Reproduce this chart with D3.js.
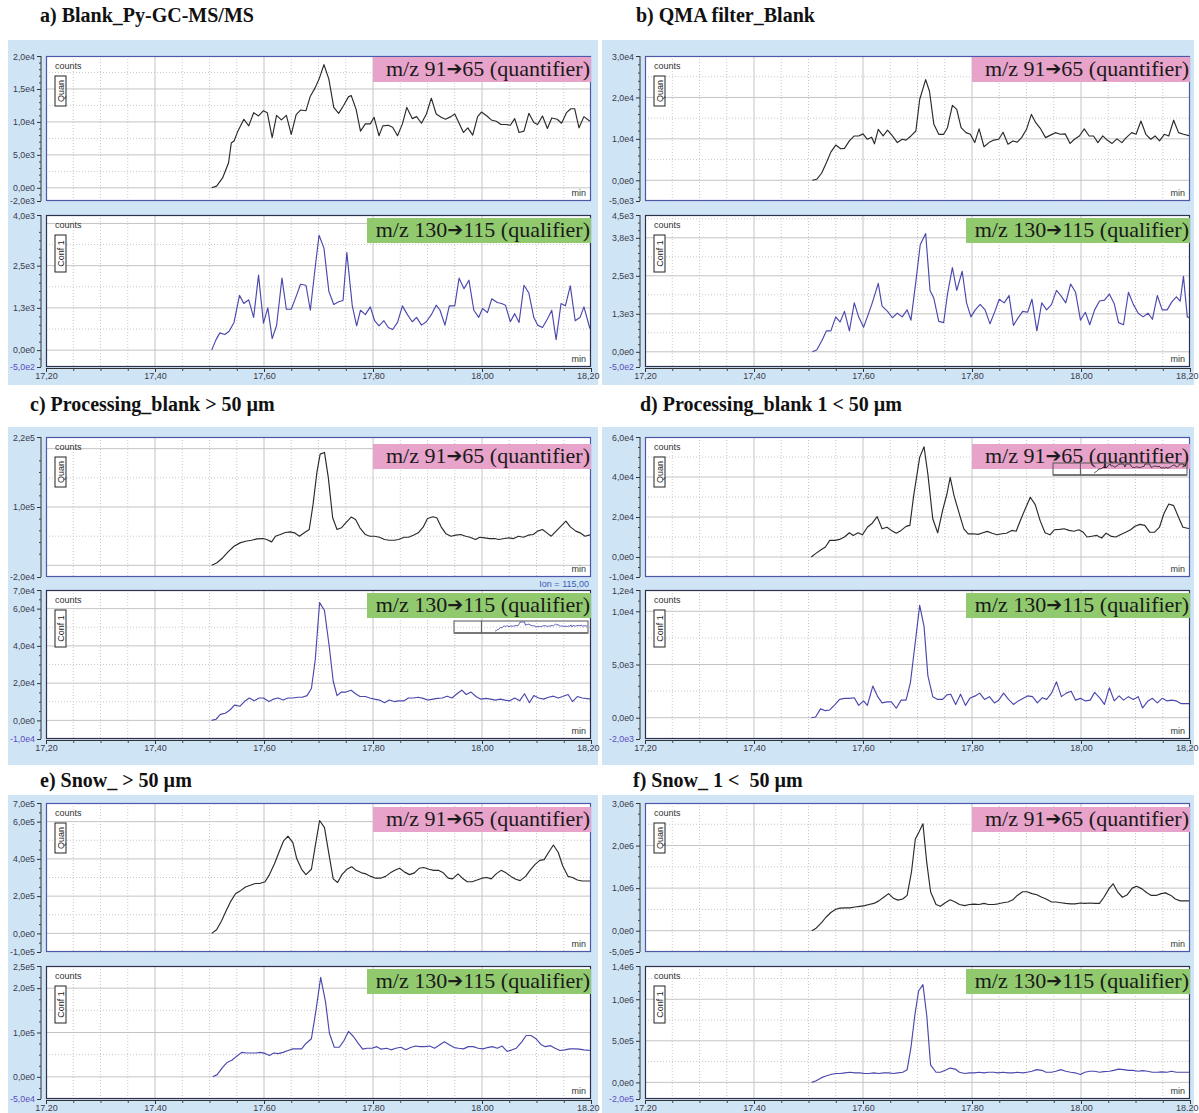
<!DOCTYPE html>
<html><head><meta charset="utf-8">
<script src="https://cdn.jsdelivr.net/npm/d3@7"></script>
<style>body{margin:0;background:#fff}svg{display:block}</style>
</head><body>
<script>
// ---- Retention-time traces [min, counts] ----
const aQuan = [[17.504,0],[17.513,250],[17.524,1500],[17.535,3800],[17.540,6800],[17.545,7100],[17.552,8600],[17.563,10400],[17.572,9400],[17.581,11400],[17.590,10900],[17.599,11700],[17.606,11400],[17.615,7600],[17.623,11000],[17.632,10300],[17.641,11000],[17.650,8100],[17.659,11100],[17.667,11800],[17.677,11700],[17.685,13900],[17.694,15200],[17.701,16500],[17.710,18700],[17.719,16500],[17.728,12200],[17.737,11300],[17.746,12500],[17.755,13800],[17.760,14000],[17.769,11900],[17.777,8600],[17.786,9700],[17.795,9700],[17.802,10700],[17.811,7900],[17.818,9400],[17.828,9500],[17.836,9200],[17.845,7900],[17.854,9700],[17.862,12200],[17.872,10500],[17.880,10800],[17.889,9800],[17.898,11200],[17.907,13600],[17.916,11200],[17.925,10700],[17.933,10400],[17.943,10800],[17.950,11200],[17.958,9800],[17.966,8400],[17.974,9100],[17.983,8000],[17.992,10800],[17.999,11500],[18.009,10900],[18.017,10300],[18.026,10100],[18.035,9600],[18.043,9600],[18.052,9500],[18.060,10500],[18.068,8400],[18.077,8600],[18.086,11300],[18.095,9900],[18.102,9600],[18.111,10900],[18.120,9000],[18.128,10600],[18.138,10400],[18.146,9800],[18.155,11400],[18.163,12000],[18.170,12000],[18.178,9100],[18.187,10800],[18.198,10100]];
const aConf = [[17.504,0],[17.512,310],[17.519,510],[17.528,460],[17.536,560],[17.545,820],[17.555,1620],[17.563,1380],[17.572,1490],[17.581,970],[17.590,2220],[17.599,800],[17.607,1250],[17.615,340],[17.623,720],[17.633,2130],[17.641,1210],[17.650,1210],[17.659,1590],[17.667,1950],[17.677,1920],[17.685,1180],[17.694,2460],[17.701,3400],[17.710,3020],[17.719,1740],[17.728,1350],[17.737,1430],[17.745,1470],[17.752,2890],[17.762,1310],[17.770,720],[17.777,1180],[17.786,1050],[17.795,1280],[17.803,870],[17.811,720],[17.820,870],[17.828,670],[17.836,610],[17.845,820],[17.854,1310],[17.862,1080],[17.872,840],[17.880,970],[17.889,740],[17.898,840],[17.907,1050],[17.916,1330],[17.923,1180],[17.932,740],[17.940,1310],[17.950,1310],[17.958,2130],[17.967,1820],[17.976,2070],[17.985,1180],[17.994,970],[18.001,1230],[18.010,1110],[18.018,1520],[18.028,1410],[18.036,1380],[18.043,1330],[18.052,840],[18.060,1080],[18.068,820],[18.077,1920],[18.086,1690],[18.095,970],[18.102,740],[18.111,670],[18.120,920],[18.128,1180],[18.136,310],[18.145,1380],[18.153,1310],[18.162,1900],[18.171,870],[18.180,970],[18.187,1280],[18.198,640]];
const bQuan = [[17.507,0],[17.515,240],[17.524,1700],[17.533,4300],[17.541,6800],[17.550,8500],[17.559,7600],[17.566,7700],[17.575,9500],[17.584,10700],[17.592,10700],[17.600,11200],[17.608,9900],[17.616,10400],[17.621,8800],[17.628,12300],[17.637,10700],[17.645,12100],[17.654,10700],[17.663,9100],[17.672,9900],[17.679,9700],[17.688,10700],[17.697,11900],[17.704,19500],[17.715,24300],[17.722,21500],[17.730,13500],[17.739,11100],[17.748,11100],[17.755,12700],[17.764,18100],[17.772,17100],[17.780,12700],[17.789,11500],[17.797,11100],[17.805,9100],[17.813,12400],[17.822,8100],[17.831,9100],[17.840,9700],[17.849,9900],[17.857,11600],[17.866,8700],[17.875,9500],[17.883,9200],[17.891,10300],[17.900,12300],[17.909,15900],[17.917,13900],[17.926,12400],[17.935,10300],[17.944,10900],[17.953,11500],[17.962,11100],[17.971,11200],[17.980,8900],[17.988,9900],[17.997,10700],[18.006,12400],[18.015,10700],[18.023,10700],[18.031,9100],[18.040,10700],[18.048,9700],[18.057,8900],[18.066,10000],[18.075,9100],[18.083,10300],[18.093,11500],[18.101,11100],[18.110,14300],[18.119,11100],[18.128,9900],[18.136,10700],[18.144,9500],[18.153,11100],[18.161,10700],[18.170,14500],[18.179,11500],[18.188,11100],[18.200,10700]];
const bConf = [[17.507,0],[17.515,60],[17.524,350],[17.533,690],[17.541,690],[17.550,1150],[17.558,980],[17.566,1330],[17.575,690],[17.584,1610],[17.592,1150],[17.601,810],[17.608,1150],[17.617,1610],[17.628,2250],[17.635,1500],[17.645,1330],[17.654,1120],[17.663,1270],[17.672,1150],[17.681,1380],[17.688,1040],[17.697,2310],[17.705,3520],[17.715,3890],[17.723,2020],[17.730,1760],[17.739,1000],[17.748,960],[17.755,1900],[17.764,2770],[17.772,2020],[17.782,2650],[17.790,1610],[17.798,1150],[17.806,1380],[17.815,1560],[17.824,1380],[17.833,920],[17.842,1330],[17.850,1730],[17.859,1610],[17.868,1850],[17.876,870],[17.884,1100],[17.893,1330],[17.902,1300],[17.910,1730],[17.919,690],[17.928,1610],[17.937,1380],[17.946,1560],[17.955,2020],[17.963,1850],[17.972,1610],[17.981,2230],[17.990,1960],[17.999,1040],[18.008,1300],[18.016,890],[18.025,1380],[18.034,1670],[18.043,1700],[18.052,1900],[18.061,1580],[18.069,960],[18.078,890],[18.087,1960],[18.096,1560],[18.105,1270],[18.114,1150],[18.123,1270],[18.131,1070],[18.140,1850],[18.149,1380],[18.158,1380],[18.167,1650],[18.175,1810],[18.182,1670],[18.188,2480],[18.195,1150],[18.200,1120]];
const cQuan = [[17.504,0],[17.513,4000],[17.524,12600],[17.534,23000],[17.545,32700],[17.556,38500],[17.566,41300],[17.577,43000],[17.587,45400],[17.598,45900],[17.605,44200],[17.614,40200],[17.621,49900],[17.630,52800],[17.639,56300],[17.648,57400],[17.656,55700],[17.665,49900],[17.674,55700],[17.683,61400],[17.690,104500],[17.697,159000],[17.703,190600],[17.711,193500],[17.718,150400],[17.726,81500],[17.734,61400],[17.742,64300],[17.750,72900],[17.760,82700],[17.768,78600],[17.776,64300],[17.786,52800],[17.794,49900],[17.803,49900],[17.812,48200],[17.821,44200],[17.830,43000],[17.839,43000],[17.847,44200],[17.857,48200],[17.865,48200],[17.874,51700],[17.883,55700],[17.892,65400],[17.900,80400],[17.910,83200],[17.917,81500],[17.925,66000],[17.934,54000],[17.943,49900],[17.952,51700],[17.961,52800],[17.970,49900],[17.978,48200],[17.988,44200],[17.996,48200],[18.005,47100],[18.014,45900],[18.023,45900],[18.031,44200],[18.041,45900],[18.049,47100],[18.058,45900],[18.067,49900],[18.076,48200],[18.085,51700],[18.094,52800],[18.102,58600],[18.111,61400],[18.119,55700],[18.127,49900],[18.136,58600],[18.145,67200],[18.154,75800],[18.162,66000],[18.172,58600],[18.180,55700],[18.189,49900],[18.200,52800]];
const cConf = [[17.504,0],[17.512,600],[17.520,3200],[17.529,3800],[17.538,5700],[17.546,8200],[17.556,7600],[17.564,10100],[17.573,12000],[17.582,10500],[17.591,12000],[17.599,12000],[17.609,10100],[17.617,11400],[17.626,12000],[17.635,10900],[17.644,12000],[17.653,12000],[17.662,12400],[17.670,12400],[17.679,13300],[17.687,17100],[17.694,32400],[17.702,63200],[17.711,59000],[17.720,39000],[17.727,21000],[17.734,13300],[17.742,15200],[17.750,15200],[17.760,16200],[17.768,14300],[17.776,12800],[17.786,12800],[17.794,12000],[17.803,11400],[17.812,10900],[17.821,9500],[17.830,10900],[17.839,10100],[17.847,10500],[17.857,10500],[17.865,12000],[17.874,12000],[17.883,12400],[17.892,11800],[17.900,10900],[17.910,11400],[17.918,11800],[17.927,12000],[17.936,13000],[17.945,12000],[17.954,14300],[17.963,16200],[17.971,13900],[17.980,15200],[17.989,12800],[17.998,11400],[18.007,11800],[18.016,11400],[18.024,10900],[18.034,11400],[18.042,10900],[18.051,10500],[18.060,12000],[18.069,10500],[18.078,14300],[18.087,9500],[18.095,13300],[18.104,12000],[18.113,11400],[18.122,12400],[18.131,13000],[18.140,12000],[18.148,12800],[18.158,13900],[18.166,10100],[18.175,12800],[18.184,12000],[18.200,11400]];
const dQuan = [[17.505,0],[17.513,1700],[17.523,3600],[17.531,5000],[17.539,8300],[17.549,8300],[17.557,8800],[17.566,10000],[17.575,12100],[17.582,10800],[17.591,12100],[17.599,11100],[17.608,14900],[17.617,16900],[17.626,20200],[17.635,14100],[17.644,14900],[17.652,13300],[17.661,11900],[17.670,13300],[17.679,15300],[17.686,15800],[17.693,30700],[17.704,49800],[17.712,55100],[17.719,41500],[17.728,19100],[17.737,12100],[17.746,23200],[17.754,31500],[17.760,39800],[17.767,30700],[17.775,23200],[17.785,14100],[17.793,11600],[17.802,11600],[17.811,11300],[17.820,12100],[17.828,12800],[17.837,11900],[17.846,11100],[17.855,11600],[17.863,11900],[17.873,13300],[17.881,12900],[17.890,19100],[17.899,24900],[17.907,29900],[17.916,26200],[17.925,18200],[17.934,12100],[17.943,11100],[17.951,13600],[17.961,13800],[17.969,14100],[17.978,13300],[17.987,12900],[17.996,13600],[18.004,12400],[18.011,10000],[18.020,10400],[18.029,10800],[18.038,9500],[18.046,11900],[18.056,10300],[18.064,10000],[18.073,11300],[18.082,12400],[18.091,13600],[18.099,15400],[18.108,16300],[18.117,15800],[18.126,12400],[18.135,12400],[18.144,14900],[18.152,21600],[18.161,26500],[18.170,25700],[18.179,19900],[18.187,14900],[18.200,14100]];
const dConf = [[17.505,0],[17.513,70],[17.522,830],[17.531,660],[17.539,730],[17.549,1250],[17.557,1720],[17.566,1820],[17.575,1820],[17.584,1880],[17.592,1160],[17.601,1580],[17.608,1160],[17.618,2970],[17.627,1980],[17.635,1390],[17.644,1490],[17.652,1490],[17.661,890],[17.670,1650],[17.679,1650],[17.687,3300],[17.694,6270],[17.704,10560],[17.712,8580],[17.719,3960],[17.728,1980],[17.737,1720],[17.746,1720],[17.754,2150],[17.761,2210],[17.770,1250],[17.779,2210],[17.788,1160],[17.796,1820],[17.806,2050],[17.814,2310],[17.823,1720],[17.832,1980],[17.841,1390],[17.849,1650],[17.858,2310],[17.867,1720],[17.876,1250],[17.885,1580],[17.894,1820],[17.902,2050],[17.911,1980],[17.920,1390],[17.929,1880],[17.937,1720],[17.946,2310],[17.955,3370],[17.964,1980],[17.973,2310],[17.982,2480],[17.990,1650],[17.999,1820],[18.008,1580],[18.017,1650],[18.025,2380],[18.035,1820],[18.043,1250],[18.052,2810],[18.061,1580],[18.070,2050],[18.078,1650],[18.087,1980],[18.096,1720],[18.105,1980],[18.113,920],[18.123,1580],[18.131,1820],[18.140,1390],[18.149,1820],[18.158,1580],[18.166,1650],[18.175,1580],[18.184,1320],[18.200,1320]];
const eQuan = [[17.504,0],[17.513,19100],[17.522,66900],[17.531,124300],[17.539,172100],[17.548,214100],[17.557,229400],[17.566,248600],[17.575,258100],[17.584,267700],[17.592,267700],[17.602,277200],[17.610,315500],[17.619,372800],[17.628,439800],[17.636,497100],[17.644,522000],[17.653,487600],[17.660,401500],[17.669,344200],[17.677,315500],[17.687,344200],[17.694,468500],[17.702,606100],[17.711,567900],[17.720,411100],[17.727,292500],[17.735,273400],[17.743,315500],[17.752,344200],[17.761,357600],[17.769,338400],[17.779,325000],[17.787,319300],[17.796,305900],[17.805,296400],[17.814,296400],[17.823,305900],[17.832,325000],[17.840,338400],[17.849,349900],[17.858,328900],[17.867,315500],[17.876,325000],[17.885,349900],[17.893,353700],[17.903,344200],[17.911,338400],[17.920,338400],[17.929,325000],[17.938,296400],[17.946,292500],[17.956,319300],[17.964,296400],[17.973,277200],[17.982,277200],[17.991,286800],[18.000,296400],[18.009,300200],[18.017,292500],[18.026,319300],[18.035,338400],[18.044,325000],[18.053,305900],[18.062,290600],[18.070,283000],[18.080,305900],[18.088,338400],[18.097,369000],[18.106,392000],[18.114,395800],[18.122,434100],[18.131,474200],[18.140,434100],[18.148,363300],[18.158,305900],[18.166,300200],[18.175,286800],[18.184,281100],[18.200,281100]];
const eConf = [[17.506,0],[17.514,5000],[17.524,21500],[17.532,32300],[17.541,37300],[17.550,46600],[17.559,55200],[17.568,53800],[17.577,53800],[17.585,53800],[17.594,55200],[17.603,52300],[17.610,48000],[17.618,53800],[17.626,52300],[17.635,55200],[17.644,59500],[17.653,63100],[17.662,63100],[17.669,63100],[17.677,75300],[17.687,86000],[17.695,147000],[17.704,224400],[17.713,168500],[17.720,98200],[17.729,66700],[17.738,66700],[17.747,82400],[17.755,102500],[17.764,91000],[17.773,75300],[17.781,62400],[17.789,64500],[17.798,64500],[17.807,68100],[17.815,62400],[17.825,64500],[17.833,60900],[17.842,64500],[17.851,66700],[17.860,60900],[17.869,66000],[17.878,69500],[17.886,68100],[17.895,68100],[17.904,69500],[17.913,64500],[17.922,71700],[17.931,78900],[17.939,73100],[17.949,66000],[17.957,64500],[17.966,63100],[17.975,68100],[17.984,68100],[17.993,64500],[18.002,63100],[18.010,66000],[18.019,68100],[18.028,64500],[18.037,69500],[18.046,57300],[18.055,60900],[18.063,64500],[18.073,78900],[18.081,93200],[18.090,93200],[18.099,86000],[18.108,73100],[18.116,68100],[18.126,70300],[18.134,64500],[18.143,59500],[18.152,60900],[18.161,63100],[18.170,63100],[18.179,62400],[18.187,60900],[18.200,59500]];
const fQuan = [[17.506,0],[17.514,60000],[17.524,188000],[17.532,316000],[17.541,427000],[17.550,504000],[17.558,530000],[17.567,538000],[17.576,538000],[17.585,556000],[17.594,573000],[17.603,590000],[17.611,615000],[17.620,641000],[17.629,701000],[17.638,786000],[17.647,872000],[17.656,761000],[17.664,718000],[17.673,744000],[17.681,829000],[17.689,1385000],[17.696,2154000],[17.703,2325000],[17.710,2513000],[17.717,1598000],[17.724,915000],[17.734,615000],[17.742,573000],[17.751,658000],[17.760,726000],[17.769,675000],[17.777,615000],[17.787,590000],[17.795,615000],[17.804,624000],[17.813,615000],[17.822,641000],[17.830,615000],[17.840,615000],[17.848,632000],[17.857,658000],[17.866,675000],[17.875,726000],[17.883,829000],[17.893,915000],[17.901,915000],[17.910,872000],[17.919,846000],[17.928,786000],[17.936,744000],[17.946,675000],[17.954,675000],[17.963,658000],[17.972,641000],[17.981,632000],[17.989,632000],[17.999,650000],[18.007,641000],[18.016,650000],[18.025,641000],[18.034,641000],[18.042,786000],[18.052,1000000],[18.059,1103000],[18.067,915000],[18.076,786000],[18.085,846000],[18.094,1000000],[18.102,1043000],[18.112,983000],[18.120,897000],[18.129,829000],[18.138,829000],[18.147,872000],[18.155,889000],[18.165,829000],[18.173,744000],[18.182,701000],[18.200,701000]];
const fConf = [[17.506,0],[17.514,19000],[17.524,57000],[17.532,76000],[17.541,95000],[17.550,107000],[17.558,107000],[17.567,115000],[17.576,122000],[17.585,115000],[17.594,115000],[17.603,107000],[17.611,107000],[17.620,115000],[17.629,107000],[17.638,115000],[17.647,115000],[17.656,107000],[17.664,115000],[17.673,122000],[17.681,153000],[17.688,420000],[17.695,802000],[17.702,1099000],[17.710,1176000],[17.717,802000],[17.724,210000],[17.734,122000],[17.742,122000],[17.751,145000],[17.760,172000],[17.769,160000],[17.777,122000],[17.787,107000],[17.795,115000],[17.804,115000],[17.813,122000],[17.822,115000],[17.830,122000],[17.840,122000],[17.848,115000],[17.857,122000],[17.866,115000],[17.875,115000],[17.883,122000],[17.893,115000],[17.901,122000],[17.910,134000],[17.919,153000],[17.928,145000],[17.936,122000],[17.946,122000],[17.954,134000],[17.963,153000],[17.972,134000],[17.981,122000],[17.989,115000],[17.999,95000],[18.007,122000],[18.016,134000],[18.025,134000],[18.034,122000],[18.042,130000],[18.052,134000],[18.060,145000],[18.069,160000],[18.078,153000],[18.087,145000],[18.095,145000],[18.105,134000],[18.113,141000],[18.122,134000],[18.131,122000],[18.140,122000],[18.148,126000],[18.158,122000],[18.166,134000],[18.175,122000],[18.184,122000],[18.200,122000]];

// ---- Panel text and axes ----
const panelTitles = ["a) Blank_Py-GC-MS/MS", "b) QMA filter_Blank", "c) Processing_blank > 50 µm",
                     "d) Processing_blank 1 < 50 µm", "e) Snow_ > 50 µm", "f) Snow_ 1 <  50 µm"];
const quanSeries = [aQuan, bQuan, cQuan, dQuan, eQuan, fQuan];
const confSeries = [aConf, bConf, cConf, dConf, eConf, fConf];
const quanDomains = [[-2e3, 2e4], [-5e3, 3e4], [-2e4, 2.2e5], [-1e4, 6e4], [-1e5, 7e5], [-5e5, 3e6]];
const confDomains = [[-5e2, 4e3], [-5e2, 4.5e3], [-1e4, 7e4], [-2e3, 1.2e4], [-5e4, 2.5e5], [-2e5, 1.4e6]];
const quanMajor = [[0, 5e3, 1e4, 1.5e4], [0, 1e4, 2e4], [0, 1e5, 2e5], [0, 2e4, 4e4], [0, 2e5, 4e5, 6e5], [0, 1e6, 2e6]];
const quanLabels = [[0, 5e3, 1e4, 1.5e4], [0, 1e4, 2e4], [1e5], [0, 2e4, 4e4], [0, 2e5, 4e5, 6e5], [0, 1e6, 2e6]];
const quanMinorStep = [1e3, 2e3, 2e4, 5e3, 5e4, 2.5e5];
const confMajor = [[0, 1250, 2500, 3750], [0, 1250, 2500, 3750], [0, 2e4, 4e4, 6e4], [0, 5e3, 1e4], [0, 1e5, 2e5], [0, 5e5, 1e6]];
const confLabels = [[0, 1250, 2500], [0, 1250, 2500, 3750], [0, 2e4, 4e4, 6e4], [0, 5e3, 1e4], [0, 1e5, 2e5], [0, 5e5, 1e6]];
const confMinorStep = [250, 250, 5e3, 1e3, 2.5e4, 1e5];
const timeTicks = [17.2, 17.4, 17.6, 17.8, 18.0, 18.2];
const timeDecimalMark = [",", ",", "."];           // per row of panels
const quanTag = ["m/z 91", "65 (quantifier)"];
const confTag = ["m/z 130", "115 (qualifier)"];

// ---- Layout ----
const W = 1199, H = 1113;
const rows = [
  {title: 22, bg0: 40, bg1: 385, q: [56, 201], c: [215, 367], tagQ: 1},
  {title: 411, bg0: 427, bg1: 765, q: [437, 577], c: [590, 739], tagQ: 7},
  {title: 787, bg0: 795, bg1: 1113, q: [803, 952], c: [966, 1099], tagQ: 4}
];
const cols = [
  {bg0: 8, bg1: 598, axis: 41, x0: 46, x1: 591},
  {bg0: 602, bg1: 1194, axis: 640, x0: 645, x1: 1190}
];
const titleX = [40, 636, 30, 640, 40, 633];

const BG = "#cfe5f6", QUAN = "#2a2a2a", CONF = "#4a48ad";
const fmtY = v => v.toExponential(1).replace(".", ",").replace("e+", "e");

const svg = d3.select("body").append("svg").attr("width", W).attr("height", H)
  .style("font-family", "'Liberation Sans', Arial, sans-serif");
svg.append("rect").attr("width", W).attr("height", H).attr("fill", "#fff");
const defs = svg.append("defs");

function minorValues(domain, step, major) {
  const out = [];
  const start = Math.ceil(domain[0] / step);
  for (let k = start; k * step <= domain[1] + 1e-9; k++) {
    const v = k * step;
    if (!major.some(m => Math.abs(m - v) < step * 1e-6)) out.push(v);
  }
  return out;
}

function drawSub(g, id, col, yr, domain, major, labels, minorStep, data, kind) {
  const x = d3.scaleLinear().domain([17.2, 18.2]).range([col.x0, col.x1]);
  const y = d3.scaleLinear().domain(domain).range([yr[1], yr[0]]);
  const w = col.x1 - col.x0, h = yr[1] - yr[0];
  g.append("rect").attr("x", col.x0).attr("y", yr[0]).attr("width", w).attr("height", h).attr("fill", "#fff");

  // grid: dotted minor, solid major
  const xMinor = d3.range(1, 20).map(i => 17.2 + i * 0.05).filter((v, i) => (i + 1) % 4 !== 0);
  const xMajor = [17.4, 17.6, 17.8, 18.0];
  const yMid = [];
  const steps = major.slice(1).map((m, i) => m - major[i]);
  const half = (steps.length ? steps[0] : major[0]) / 2;
  for (let v = major[0] - half; v >= domain[0]; v -= half * 2) yMid.push(v);
  major.forEach(m => { if (m + half < domain[1]) yMid.push(m + half); });
  const grid = g.append("g");
  grid.selectAll(".xm").data(xMinor).join("line")
    .attr("x1", d => x(d)).attr("x2", d => x(d)).attr("y1", yr[0]).attr("y2", yr[1])
    .attr("stroke", "#c9c9c9").attr("stroke-dasharray", "1,2");
  grid.selectAll(".ym").data(yMid).join("line")
    .attr("x1", col.x0).attr("x2", col.x1).attr("y1", d => y(d)).attr("y2", d => y(d))
    .attr("stroke", "#c9c9c9").attr("stroke-dasharray", "1,2");
  grid.selectAll(".xM").data(xMajor).join("line")
    .attr("x1", d => x(d)).attr("x2", d => x(d)).attr("y1", yr[0]).attr("y2", yr[1])
    .attr("stroke", "#c4c4c4");
  grid.selectAll(".yM").data(major.filter(v => v < domain[1])).join("line")
    .attr("x1", col.x0).attr("x2", col.x1).attr("y1", d => y(d)).attr("y2", d => y(d))
    .attr("stroke", "#c4c4c4");

  // trace
  defs.append("clipPath").attr("id", id).append("rect")
    .attr("x", col.x0).attr("y", yr[0]).attr("width", w).attr("height", h);
  g.append("path").datum(data).attr("clip-path", `url(#${id})`)
    .attr("d", d3.line().x(d => x(d[0])).y(d => y(d[1])))
    .attr("fill", "none").attr("stroke", kind === "quan" ? QUAN : CONF)
    .attr("stroke-width", 1.15).attr("stroke-linejoin", "round");

  // frame
  g.append("rect").attr("x", col.x0 + 0.5).attr("y", yr[0] + 0.5).attr("width", w - 1).attr("height", h - 1)
    .attr("fill", "none").attr("stroke", kind === "quan" ? "#4d58a8" : "#2e3050").attr("stroke-width", 1.2);

  // y axis: major + minor ticks, labels incl. the domain ends
  const ax = g.append("g").attr("transform", `translate(${col.axis},0)`);
  ax.append("line").attr("y1", yr[0]).attr("y2", yr[1]).attr("stroke", "#333");
  const minorAxis = d3.axisLeft(y).tickValues(minorValues(domain, minorStep, major)).tickSize(2).tickFormat("");
  ax.append("g").call(minorAxis).call(s => s.select(".domain").remove())
    .selectAll("line").attr("stroke", "#444");
  const allLabels = [domain[1], ...labels.filter(v => v !== domain[1]), domain[0]];
  const majorAxis = d3.axisLeft(y).tickValues(allLabels).tickSize(4).tickPadding(2).tickFormat(fmtY);
  const mg = ax.append("g").call(majorAxis).call(s => s.select(".domain").remove());
  mg.selectAll("line").attr("stroke", "#333");
  mg.selectAll("text").attr("font-size", 8.8).attr("font-family", "'Liberation Sans', Arial, sans-serif")
    .attr("fill", d => (kind === "conf" && d === domain[0]) ? "#5a4bc0" : "#3a3a4a");
  mg.selectAll(".tick text").filter(d => d === domain[1]).attr("dy", "0.45em");

  // in-plot annotations
  g.append("text").attr("x", col.x0 + 9).attr("y", yr[0] + 13).attr("font-size", 9).attr("fill", "#333").text("counts");
  const boxH = kind === "quan" ? 30 : 37;
  const bx = col.x0 + 9, by = yr[0] + 20;
  g.append("rect").attr("x", bx).attr("y", by).attr("width", 11).attr("height", boxH)
    .attr("fill", "#fff").attr("stroke", "#222").attr("stroke-width", 1);
  g.append("text").attr("transform", `translate(${bx + 8.5},${by + boxH / 2}) rotate(-90)`)
    .attr("text-anchor", "middle").attr("font-size", 9).attr("fill", "#222")
    .text(kind === "quan" ? "Quan" : "Conf 1");
  g.append("text").attr("x", col.x1 - 5).attr("y", yr[1] - 5).attr("text-anchor", "end")
    .attr("font-size", 9).attr("fill", "#333").text("min");
  return {x, y};
}

function tag(g, xRight, yTop, width, fill, parts) {
  g.append("rect").attr("x", xRight - width).attr("y", yTop).attr("width", width).attr("height", 25).attr("fill", fill);
  const t = g.append("text").attr("x", xRight - 1).attr("y", yTop + 19).attr("text-anchor", "end")
    .attr("font-family", "'Liberation Serif', 'Times New Roman', serif").attr("font-size", 22).attr("fill", "#1a1a1a");
  t.append("tspan").text(parts[0]);
  t.append("tspan").attr("font-family", "'DejaVu Sans', sans-serif").attr("font-size", 19).attr("dy", -1).text("➔");
  t.append("tspan").attr("dy", 1).text(parts[1]);
}

function inset(g, x0, y0, w, h, data, color) {
  const xs = d3.scaleLinear().domain([17.2, 18.2]).range([x0 + 1, x0 + w - 1]);
  const ys = d3.scaleLinear().domain([0, d3.max(data, d => d[1]) / 3]).range([y0 + h - 2, y0 + 1]).clamp(true);
  g.append("rect").attr("x", x0).attr("y", y0).attr("width", w).attr("height", h)
    .attr("fill", "none").attr("stroke", "#555").attr("stroke-width", 1);
  g.append("line").attr("x1", x0).attr("x2", x0 + w).attr("y1", y0 + h).attr("y2", y0 + h).attr("stroke", "#777").attr("stroke-width", 2);
  g.append("line").attr("x1", xs(17.4)).attr("x2", xs(17.4)).attr("y1", y0).attr("y2", y0 + h).attr("stroke", "#555");
  g.append("path").datum(data).attr("d", d3.line().x(d => xs(d[0])).y(d => ys(d[1])))
    .attr("fill", "none").attr("stroke", color).attr("stroke-width", 0.9);
}

panelTitles.forEach((title, i) => {
  const r = rows[Math.floor(i / 2)], col = cols[i % 2];
  const pg = svg.append("g");
  svg.append("text").attr("x", titleX[i]).attr("y", r.title)
    .attr("font-family", "'Liberation Serif', 'Times New Roman', serif").attr("font-weight", "bold")
    .attr("font-size", 20).attr("fill", "#111").style("white-space", "pre").text(title);
  pg.append("rect").attr("x", col.bg0).attr("y", r.bg0).attr("width", col.bg1 - col.bg0).attr("height", r.bg1 - r.bg0).attr("fill", BG);

  const qs = drawSub(pg, "q" + i, col, r.q, quanDomains[i], quanMajor[i], quanLabels[i], quanMinorStep[i], quanSeries[i], "quan");
  drawSub(pg, "c" + i, col, r.c, confDomains[i], confMajor[i], confLabels[i], confMinorStep[i], confSeries[i], "conf");

  // time axis under the lower plot
  const decimal = timeDecimalMark[Math.floor(i / 2)];
  const xAxis = d3.axisBottom(qs.x).tickValues(timeTicks).tickSize(4).tickPadding(1)
    .tickFormat(v => v.toFixed(2).replace(".", decimal));
  const xg = pg.append("g").attr("transform", `translate(0,${r.c[1] + 1})`).call(xAxis);
  xg.select(".domain").attr("stroke", "#333");
  xg.selectAll("line").attr("stroke", "#333");
  xg.selectAll("text").attr("font-size", 9).attr("fill", "#3a3a4a").attr("font-family", "'Liberation Sans', Arial, sans-serif");
  xg.selectAll(".tick text").filter(d => d === timeTicks[timeTicks.length - 1])
    .attr("text-anchor", "end").attr("dx", 8);
  const xMinorAxis = d3.axisBottom(qs.x).tickValues(d3.range(1, 20).map(k => 17.2 + k * 0.05).filter((v, k) => (k + 1) % 4 !== 0))
    .tickSize(3).tickFormat("");
  pg.append("g").attr("transform", `translate(0,${r.c[1] + 1})`).call(xMinorAxis)
    .call(s => s.select(".domain").remove()).selectAll("line").attr("stroke", "#444");

  // ion tags
  tag(pg, col.x1, r.q[0] + r.tagQ, 218, "#e8a3ca", quanTag);
  tag(pg, col.x1, r.c[0] + 3, 224, "#91c96f", confTag);

  if (i === 2) {
    pg.append("text").attr("x", col.x1 - 2).attr("y", r.q[1] + 10).attr("text-anchor", "end")
      .attr("font-size", 9).attr("fill", "#3b5bb0").text("Ion = 115,00");
    inset(pg, col.x1 - 137, r.c[0] + 31, 134, 12, cConf, CONF);
  }
  if (i === 3) {
    inset(pg, col.x1 - 137, r.q[0] + 26, 134, 12, dQuan, QUAN);
  }
});
</script>
</body></html>
